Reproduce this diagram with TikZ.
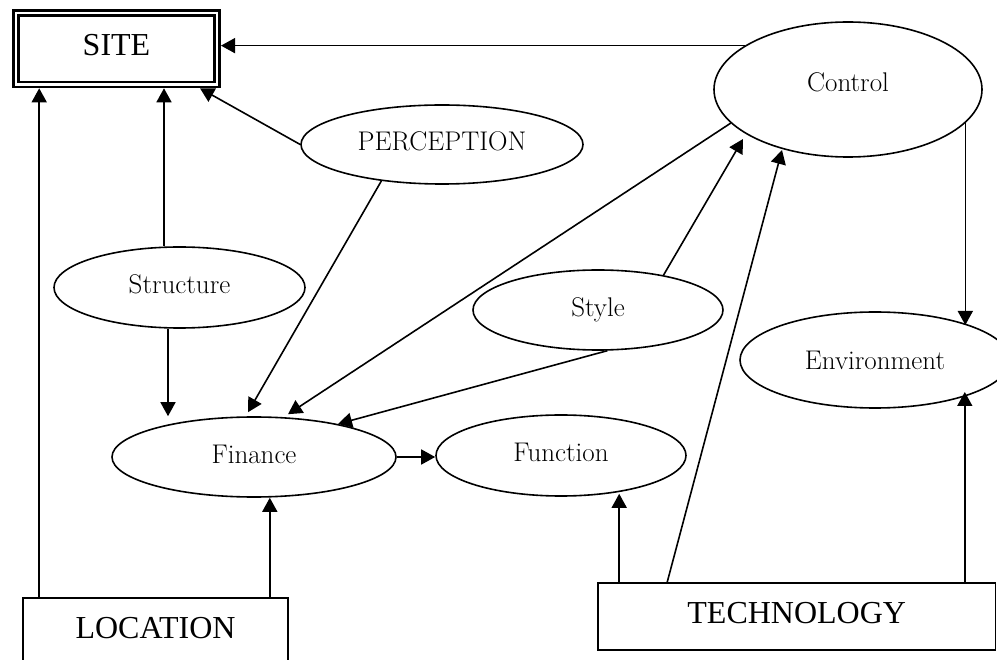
\documentclass[tikz,border=0pt]{standalone}
\usepackage{fontspec}
\newfontfamily\boxfont{Liberation Serif}
\usetikzlibrary{shapes.geometric,arrows.meta,calc}
\begin{document}
\begin{tikzpicture}[x=1pt,y=-1pt,
  line width=1.6pt,
  arr/.style={-{Triangle[length=14pt,width=15pt]}},
  oval/.style={ellipse,draw,inner sep=0pt,
    font=\fontsize{27}{31}\selectfont,text height=19pt,text depth=6.6pt},
  boxnode/.style={rectangle,draw,inner sep=0pt,
    font=\boxfont\fontsize{32}{36}\selectfont,text height=22pt,text depth=8pt}]
\useasboundingbox (0,0) rectangle (997,660);
\clip (0,0) rectangle (997,660);

% framed boxes
\node[boxnode, double, double distance=2.3pt, line width=2.7pt, outer sep=3.85pt,
      minimum width=201.3pt, minimum height=71.3pt, text depth=8.4pt]
      (site) at (116.5,48.8) {SITE};
\node[boxnode, minimum width=265pt, minimum height=92pt, text depth=32.8pt]
      (loc) at (155.5,644) {LOCATION};
\node[boxnode, minimum width=397.5pt, minimum height=67pt]
      (tech) at (796.75,616.5) {TECHNOLOGY};

% ovals
\node[oval, minimum width=268pt, minimum height=135pt, text depth=15.6pt]
      (ctrl) at (848,89.5) {Control};
\node[oval, minimum width=282pt, minimum height=79pt] (perc) at (442,144.5) {PERCEPTION};
\node[oval, minimum width=251pt, minimum height=81pt] (struct) at (179.5,287.5) {Structure};
\node[oval, minimum width=250pt, minimum height=80pt] (style) at (598,310) {Style};
\node[oval, minimum width=270pt, minimum height=96pt, text depth=0.6pt]
      (env) at (875,360) {Environment};
\node[oval, minimum width=284pt, minimum height=80pt] (fin) at (254,457) {Finance};
\node[oval, minimum width=250pt, minimum height=81pt] (func) at (561,455.5) {Function};

% links into SITE
\coordinate (l1) at ($(loc.north west)+(17,0)$);
\draw[arr] (l1) -- (l1 |- site.south);
\coordinate (s1) at ($(struct.north)+(-15.5,0)$);
\draw[arr] (s1) -- (s1 |- site.south);
\draw[arr] (ctrl.157) -- (ctrl.157 -| site.east);
\coordinate (p1) at ($(site.south east)+(-21,0)$);
\draw[arr] (perc.west) -- (p1);

% links into Finance
\coordinate (f1) at ($(fin.north)+(-6,-4)$);
\draw[arr] (perc.211) -- (f1);
\coordinate (f2) at ($(fin.north)+(34,-2)$);
\draw[arr] (ctrl.196) -- (f2);
\coordinate (f3) at ($(fin.center)+(84,-33)$);
\draw[arr] (style.283) -- (f3);
\coordinate (s2) at ($(struct.south)+(-11.5,0)$);
\draw[arr] (s2) -- (s2 |- fin.north);
\coordinate (l2) at ($(loc.north east)+(-19,0)$);
\draw[arr] (l2) -- (l2 |- fin.south);

% Finance to Function
\draw[arr] (fin.east) -- (fin.east -| func.west);

% links into Control
\coordinate (c1) at ($(ctrl.center)+(-105,49.5)$);
\draw[arr] (style.28) -- (c1);
\coordinate (t2) at ($(tech.north west)+(70,0)$);
\coordinate (c2) at ($(ctrl.center)+(-66,60.5)$);
\draw[arr] (t2) -- (c2);

% links from TECHNOLOGY
\coordinate (t1) at ($(tech.north west)+(22,0)$);
\coordinate (u1) at ($(func.south)+(59,-3)$);
\draw[arr] (t1) -- (t1 |- u1);
\coordinate (t3) at ($(tech.north east)+(-31.5,0)$);
\coordinate (e2) at ($(env.center)+(0,32)$);
\draw[arr] (t3) -- (t3 |- e2);

% Control to Environment
\coordinate (e1) at ($(env.center)+(0,-35)$);
\draw[arr] (ctrl.344) -- (ctrl.344 |- e1);
\end{tikzpicture}
\end{document}
